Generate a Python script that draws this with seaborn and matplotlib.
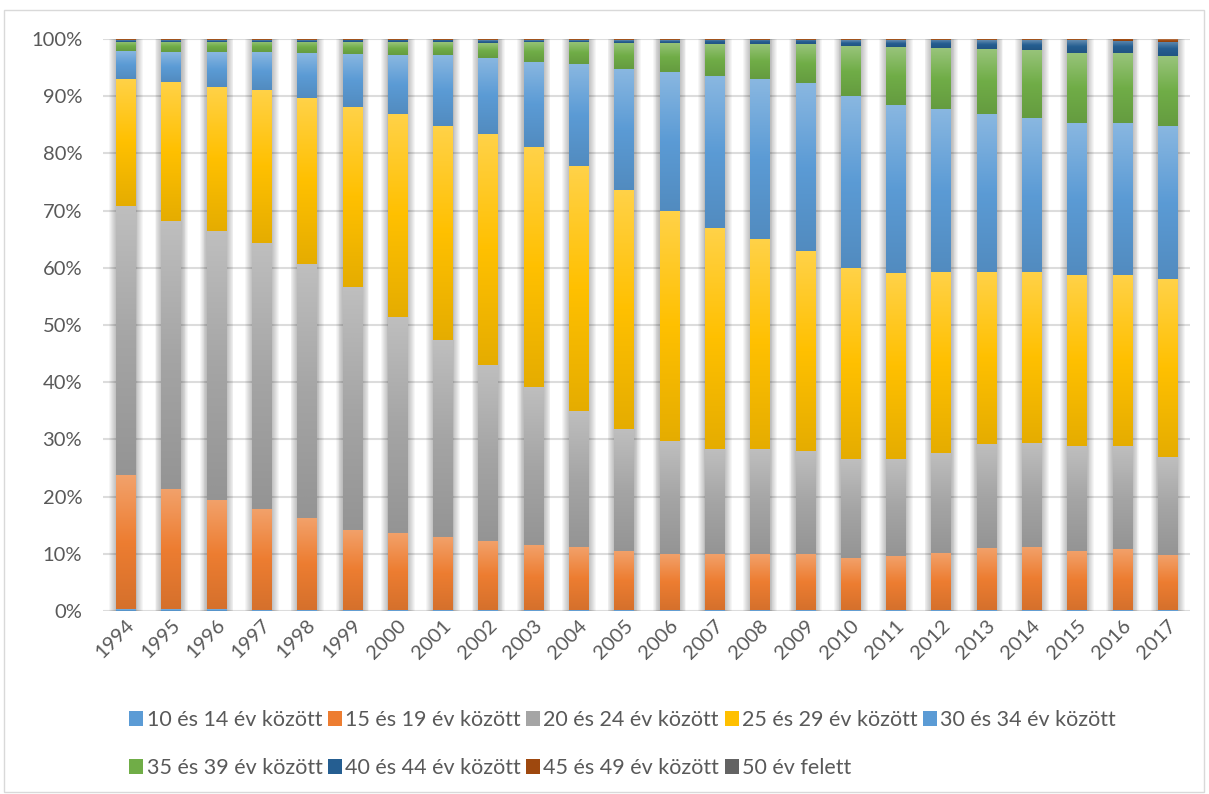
import numpy as np
import pandas as pd
import matplotlib
matplotlib.use("Agg")
import matplotlib.pyplot as plt
import seaborn as sns
from matplotlib.colors import to_rgb, LinearSegmentedColormap
from matplotlib.patches import Rectangle, Patch

years = [str(y) for y in range(1994, 2018)]

age_10_14 = [0.3, 0.3, 0.3] + [0.1] * 21
age_15_19 = [23.4, 21.0, 19.1, 17.7, 16.2, 14.1, 13.5, 12.8, 12.1, 11.4, 11.1, 10.4,
             9.9, 9.9, 9.9, 9.8, 9.2, 9.5, 10.0, 10.9, 11.1, 10.4, 10.7, 9.7]
age_20_24 = [47.1, 46.9, 47.0, 46.5, 44.4, 42.4, 37.8, 34.5, 30.8, 27.7, 23.8, 21.3,
             19.7, 18.3, 18.3, 18.1, 17.3, 17.0, 17.5, 18.2, 18.2, 18.3, 18.0, 17.1]
age_25_29 = [22.2, 24.3, 25.2, 26.8, 29.0, 31.5, 35.5, 37.4, 40.4, 41.9, 42.8, 41.8,
             40.2, 38.7, 36.7, 34.8, 33.4, 32.5, 31.7, 30.1, 29.9, 29.9, 29.9, 31.1]
age_30_34 = [4.9, 5.2, 6.1, 6.6, 7.8, 9.3, 10.3, 12.4, 13.3, 14.9, 17.8, 21.1,
             24.3, 26.5, 27.9, 29.3, 30.1, 29.4, 28.5, 27.6, 26.9, 26.6, 26.6, 26.8]
age_35_39 = [1.6, 1.8, 1.8, 1.8, 2.0, 2.0, 2.2, 2.2, 2.6, 3.5, 3.9, 4.6,
             5.1, 5.6, 6.2, 6.8, 8.7, 10.1, 10.6, 11.4, 11.9, 12.3, 12.2, 12.2]
age_40_44 = [0.3, 0.3, 0.3, 0.3, 0.3, 0.4, 0.4, 0.4, 0.5, 0.3, 0.3, 0.5,
             0.5, 0.7, 0.7, 0.8, 1.0, 1.2, 1.4, 1.5, 1.7, 2.2, 2.1, 2.5]
age_45_49 = [0.15] * 22 + [0.35, 0.4]
age_50_up = [0, 0, 0, 0, 0.05, 0, 0, 0, 0, 0, 0, 0.05,
             0, 0, 0, 0, 0.05, 0.05, 0.05, 0.05, 0.05, 0.05, 0.05, 0.05]

labels = ["10 és 14 év között", "15 és 19 év között", "20 és 24 év között",
          "25 és 29 év között", "30 és 34 év között", "35 és 39 év között",
          "40 és 44 év között", "45 és 49 év között", "50 év felett"]
colors = ["#5B9BD5", "#ED7D31", "#A5A5A5", "#FFC000", "#5B9BD5",
          "#70AD47", "#255E91", "#9E480E", "#636363"]

df = pd.DataFrame({"year": years})
for lab, vals in zip(labels, [age_10_14, age_15_19, age_20_24, age_25_29, age_30_34,
                              age_35_39, age_40_44, age_45_49, age_50_up]):
    df[lab] = vals
# 100% stacked, like excel
df[labels] = df[labels].div(df[labels].sum(axis=1), axis=0) * 100

sns.set_style("white")
plt.rcParams["font.family"] = ["Lato", "DejaVu Sans"]

fig = plt.figure(figsize=(12.09, 7.94), dpi=100)
ax = fig.add_axes([103 / 1209, 1 - 611 / 794, 1087 / 1209, 572 / 794])

bar_w = 0.42
bottom = np.zeros(len(df))
for lab, col in zip(labels, colors):
    sns.barplot(data=df, x="year", y=lab, color=col, bottom=bottom, width=bar_w,
                saturation=1, ax=ax, zorder=3, linewidth=0)
    bottom = bottom + df[lab].values

# gradient fill on each segment (light top -> dark bottom)
n = len(df)
for i, patch in enumerate(list(ax.patches)):
    h = patch.get_height()
    if h <= 0:
        continue
    c = np.array(to_rgb(colors[i // n]))
    top = c + (1 - c) * 0.28
    bot = c * 0.9
    cmap = LinearSegmentedColormap.from_list("g", [bot, c, top])
    grad = np.linspace(0, 1, 64).reshape(-1, 1)
    x0, y0, w = patch.get_x(), patch.get_y(), patch.get_width()
    ax.imshow(grad, cmap=cmap, origin="lower", aspect="auto",
              extent=[x0, x0 + w, y0, y0 + h], zorder=4, interpolation="bilinear")

# soft shadow behind the bars
for i in range(n):
    for k in range(1, 9):
        d = k * 0.02
        ax.add_patch(Rectangle((i - bar_w / 2 - d + 0.01, -0.15 * k), bar_w + 2 * d, 100 + 0.15 * k,
                               facecolor="black", alpha=0.035, linewidth=0, zorder=2))

ax.set_xlim(-0.5, n - 0.5)
ax.set_ylim(0, 100)
ax.set_yticks(np.arange(0, 101, 10))
ax.set_yticklabels([f"{v}%" for v in range(0, 101, 10)])
ax.yaxis.grid(True, color="#DCDCDC", linewidth=1.5, zorder=0)
ax.set_axisbelow(True)
for s in ax.spines.values():
    s.set_visible(False)
ax.set_xlabel("")
ax.set_ylabel("")
ax.tick_params(axis="both", length=0, labelsize=14.5, labelcolor="#595959")
ax.tick_params(axis="y", pad=15)
ax.tick_params(axis="x", pad=4)
plt.setp(ax.get_xticklabels(), rotation=45, ha="right", va="top", rotation_mode="anchor")

# legend in row order
handles = [Patch(facecolor=c, edgecolor="none") for c in colors]
order = [0, 5, 1, 6, 2, 7, 3, 8, 4]
fig.legend([handles[i] for i in order], [labels[i] for i in order], ncol=5,
           loc="center", bbox_to_anchor=(0.515, 1 - 744 / 794), frameon=False,
           fontsize=15.5, labelcolor="#595959", handlelength=0.65, handleheight=0.65,
           handletextpad=0.15, columnspacing=0.25, labelspacing=1.3)

# chart border
fig.patches.append(Rectangle((4 / 1209, 2 / 794), 1200 / 1209, 782 / 794, transform=fig.transFigure,
                             fill=False, edgecolor="#D9D9D9", linewidth=1))

fig.savefig("out.png", dpi=100)
